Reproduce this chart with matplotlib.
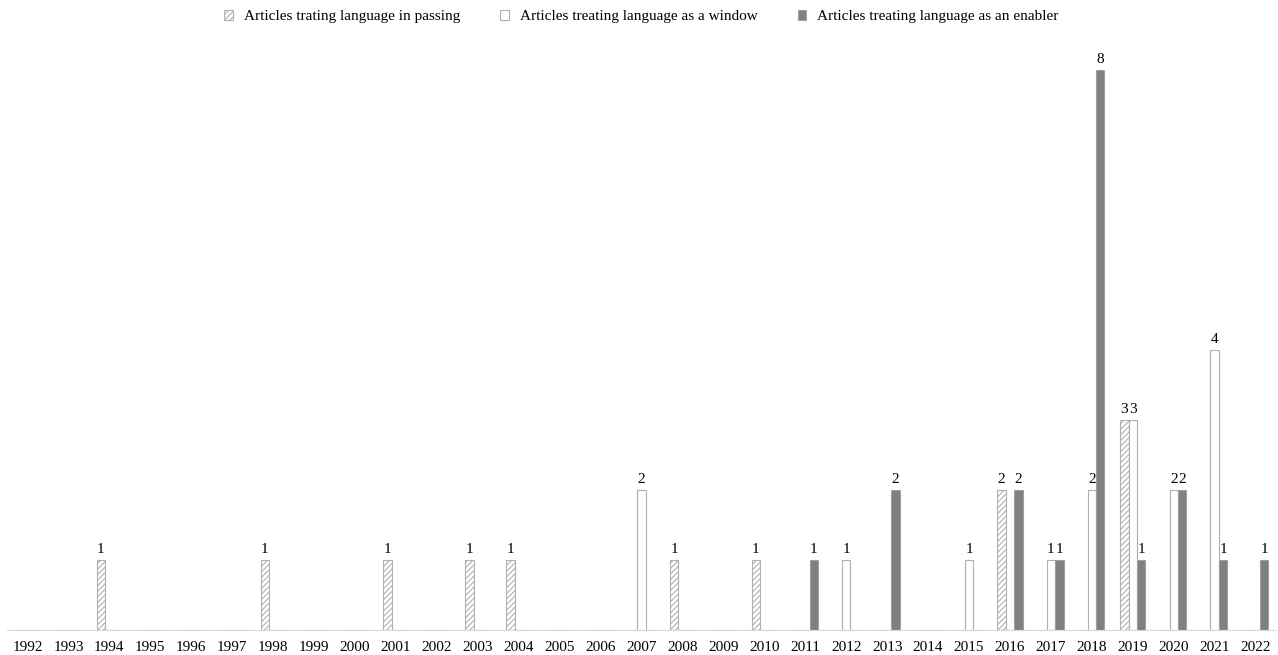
import numpy as np
import matplotlib.pyplot as plt

plt.rcParams['font.family'] = ['Liberation Serif', 'DejaVu Serif']
plt.rcParams['hatch.color'] = '#a0a0a0'
plt.rcParams['hatch.linewidth'] = 0.8

years = [str(y) for y in range(1992, 2023)]
# 1992 ... 2022
passing = [0, 0, 1, 0, 0, 0, 1, 0, 0, 1, 0, 1, 1, 0, 0, 0, 1, 0, 1, 0,
           0, 0, 0, 0, 2, 0, 0, 3, 0, 0, 0]
window = [0, 0, 0, 0, 0, 0, 0, 0, 0, 0, 0, 0, 0, 0, 0, 2, 0, 0, 0, 0,
          1, 0, 0, 1, 0, 1, 2, 3, 2, 4, 0]
enabler = [0, 0, 0, 0, 0, 0, 0, 0, 0, 0, 0, 0, 0, 0, 0, 0, 0, 0, 0, 1,
           0, 2, 0, 0, 2, 1, 8, 1, 2, 1, 1]
labels = ['Articles trating language in passing',
          'Articles treating language as a window',
          'Articles treating language as an enabler']

fig = plt.figure(figsize=(12.78, 6.55), dpi=100)
ax = fig.add_axes([0.0055, 0.038, 0.993, 0.8977])

x = np.arange(len(years))
w = 0.205
b1 = ax.bar(x - w, passing, w, color='white', edgecolor='#b0b0b0', hatch='//////',
            linewidth=0.8, label=labels[0])
b2 = ax.bar(x, window, w, color='white', edgecolor='#b0b0b0', linewidth=0.8, label=labels[1])
b3 = ax.bar(x + w, enabler, w, color='#808080', edgecolor='#a0a0a0', linewidth=0.8,
            label=labels[2])

for bars, vals in [(b1, passing), (b2, window), (b3, enabler)]:
    ax.bar_label(bars, labels=[str(v) if v else '' for v in vals], padding=3, fontsize=11)

ax.set_xlim(-0.5, len(years) - 0.5)
ax.set_ylim(0, 8.4)
ax.set_xticks(x, years, fontsize=11)
ax.tick_params(axis='x', length=0, pad=8)
ax.set_yticks([])
for s in ['top', 'right', 'left']:
    ax.spines[s].set_visible(False)
ax.spines['bottom'].set_color('#d9d9d9')

fig.legend(loc='upper center', bbox_to_anchor=(0.502, 1.005), ncol=3, frameon=False,
           fontsize=11, handlelength=0.55, handleheight=0.55, handletextpad=0.75,
           columnspacing=2.6)

plt.savefig('out.png', dpi=100)
